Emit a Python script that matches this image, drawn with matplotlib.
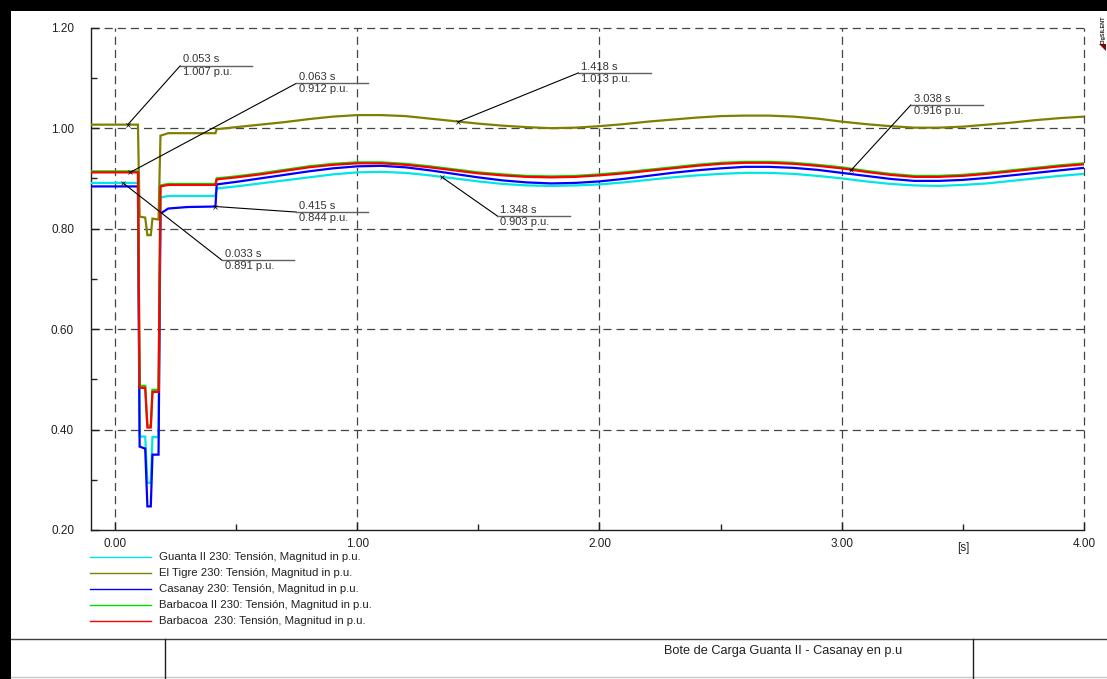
import matplotlib
matplotlib.use("Agg")
import matplotlib.pyplot as plt
from matplotlib.lines import Line2D
from matplotlib.patches import Rectangle, Polygon

plt.rcParams['font.family'] = ['Liberation Sans', 'DejaVu Sans']

# ---------------------------------------------------------------- data
time_s = [-0.10, 0.00, 0.095, 0.102, 0.125, 0.134, 0.148, 0.155, 0.180, 0.188,
          0.22, 0.30, 0.415, 0.420,
          0.5, 0.6, 0.7, 0.8, 0.9, 1.0, 1.1, 1.2, 1.3, 1.4, 1.5, 1.6, 1.7, 1.8,
          1.9, 2.0, 2.1, 2.2, 2.3, 2.4, 2.5, 2.6, 2.7, 2.8, 2.9, 3.0, 3.1, 3.2,
          3.3, 3.4, 3.5, 3.6, 3.7, 3.8, 3.9, 4.0]

guanta_ii = [0.891, 0.891, 0.891, 0.386, 0.386, 0.294, 0.294, 0.385, 0.385, 0.862,
             0.865, 0.865, 0.865, 0.880,
             0.884, 0.890, 0.896, 0.902, 0.908, 0.912, 0.913, 0.911, 0.906, 0.900,
             0.894, 0.889, 0.886, 0.885, 0.886, 0.888, 0.892, 0.897, 0.902, 0.906,
             0.909, 0.911, 0.911, 0.909, 0.905, 0.900, 0.894, 0.889, 0.886, 0.885,
             0.887, 0.890, 0.895, 0.900, 0.905, 0.909]

el_tigre = [1.007, 1.007, 1.007, 0.824, 0.822, 0.787, 0.787, 0.820, 0.818, 0.985,
            0.990, 0.990, 0.990, 0.998,
            1.002, 1.007, 1.012, 1.018, 1.023, 1.026, 1.026, 1.024, 1.019, 1.014,
            1.009, 1.005, 1.002, 1.000, 1.001, 1.004, 1.008, 1.013, 1.017, 1.021,
            1.024, 1.025, 1.025, 1.023, 1.019, 1.013, 1.008, 1.004, 1.001, 1.001,
            1.003, 1.007, 1.011, 1.016, 1.020, 1.023]

casanay = [0.884, 0.884, 0.884, 0.366, 0.362, 0.247, 0.247, 0.350, 0.350, 0.830,
           0.840, 0.843, 0.844, 0.888,
           0.893, 0.900, 0.907, 0.914, 0.920, 0.924, 0.925, 0.922, 0.916, 0.909,
           0.902, 0.896, 0.892, 0.890, 0.891, 0.894, 0.899, 0.905, 0.911, 0.916,
           0.920, 0.923, 0.923, 0.921, 0.917, 0.911, 0.905, 0.899, 0.895, 0.895,
           0.897, 0.901, 0.906, 0.911, 0.916, 0.921]

barbacoa_ii = [0.914, 0.914, 0.914, 0.487, 0.487, 0.408, 0.408, 0.479, 0.479, 0.886,
               0.889, 0.889, 0.889, 0.900,
               0.904, 0.910, 0.917, 0.924, 0.929, 0.932, 0.932, 0.929, 0.924, 0.918,
               0.912, 0.908, 0.905, 0.904, 0.905, 0.908, 0.912, 0.917, 0.922, 0.927,
               0.931, 0.933, 0.933, 0.931, 0.927, 0.922, 0.915, 0.909, 0.905, 0.905,
               0.907, 0.911, 0.916, 0.921, 0.926, 0.930]

barbacoa = [0.912, 0.912, 0.912, 0.483, 0.483, 0.404, 0.404, 0.475, 0.475, 0.884,
            0.887, 0.887, 0.887, 0.898,
            0.902, 0.908, 0.915, 0.922, 0.927, 0.930, 0.930, 0.927, 0.922, 0.916,
            0.910, 0.906, 0.903, 0.902, 0.903, 0.906, 0.910, 0.915, 0.920, 0.925,
            0.929, 0.931, 0.931, 0.929, 0.925, 0.920, 0.913, 0.907, 0.903, 0.903,
            0.905, 0.909, 0.914, 0.919, 0.924, 0.928]

series_labels = ["Guanta II 230: Tensión, Magnitud in p.u.",
                 "El Tigre 230: Tensión, Magnitud in p.u.",
                 "Casanay 230: Tensión, Magnitud in p.u.",
                 "Barbacoa II 230: Tensión, Magnitud in p.u.",
                 "Barbacoa  230: Tensión, Magnitud in p.u."]
series_values = [guanta_ii, el_tigre, casanay, barbacoa_ii, barbacoa]
series_colors = ["#00e5e5", "#808000", "#0000ff", "#00e000", "#ff0000"]

x_ticks = [0.0, 1.0, 2.0, 3.0, 4.0]
y_ticks = [0.20, 0.40, 0.60, 0.80, 1.00, 1.20]

# cursor labels: time, value, label anchor (time, value)
cursor_time = [0.053, 0.063, 0.033, 0.415, 1.418, 1.348, 3.038]
cursor_value = [1.007, 0.912, 0.891, 0.844, 1.013, 0.903, 0.916]
cursor_anchor_t = [0.269, 0.748, 0.442, 0.748, 1.913, 1.579, 3.285]
cursor_anchor_v = [1.124, 1.089, 0.737, 0.833, 1.110, 0.825, 1.046]

title_text = "Bote de Carga Guanta II - Casanay en p.u"

# ---------------------------------------------------------------- figure
W, H = 1107, 679
fig = plt.figure(figsize=(W / 100, H / 100), dpi=100)


def fx(px):
    return px / W


def fy(py):
    return 1 - py / H


ax = fig.add_axes([fx(90.7), fy(530), fx(1084) - fx(90.7), fy(27.7) - fy(530)])
ax.set_xlim(-0.10, 4.0)
ax.set_ylim(0.20, 1.20)

for sp in ("top", "right"):
    ax.spines[sp].set_visible(False)
for sp in ("left", "bottom"):
    ax.spines[sp].set_linewidth(1.0)
    ax.spines[sp].set_color("#202020")

grid_kw = dict(color="#454545", lw=0.9, dashes=(6.5, 4), clip_on=False, zorder=1)
for xv in x_ticks:
    ax.axvline(xv, **grid_kw)
for yv in y_ticks[1:]:
    ax.axhline(yv, **grid_kw)

ax.set_xticks(x_ticks)
ax.set_xticklabels([f"{v:.2f}" for v in x_ticks])
ax.set_xticks([0.5, 1.5, 2.5, 3.5], minor=True)
ax.set_yticks(y_ticks)
ax.set_yticklabels([f"{v:.2f}" for v in y_ticks])
ax.set_yticks([0.3, 0.5, 0.7, 0.9, 1.1], minor=True)
ax.tick_params(axis="both", which="major", direction="in", length=6, width=1,
               labelsize=8.5, colors="#202020")
ax.tick_params(axis="both", which="minor", direction="in", length=4, width=1,
               colors="#202020")
ax.tick_params(axis="y", which="major", pad=12)
ax.tick_params(axis="x", which="major", pad=6)
ax.text(3.5, -0.024, "[s]", transform=ax.get_xaxis_transform(), ha="center",
        va="top", fontsize=8.5, color="#202020")

for vals, col, lab in zip(series_values, series_colors, series_labels):
    ax.plot(time_s, vals, color=col, lw=1.6, zorder=3, solid_joinstyle="miter")

# cursor labels
for t, v, at, av in zip(cursor_time, cursor_value, cursor_anchor_t, cursor_anchor_v):
    ax.plot([t, at], [v, av], color="black", lw=0.8, zorder=5)
    ax.plot([at, at + 0.298], [av, av], color="#606060", lw=1.0, zorder=5)
    ax.plot([t], [v], marker="x", ms=2.2, mew=0.5, color="black", zorder=5)
    ax.annotate(f"{t:.3f} s", (at, av), xytext=(2, 1), textcoords="offset points",
                ha="left", va="bottom", fontsize=8, color="#333333", zorder=6)
    ax.annotate(f"{v:.3f} p.u.", (at, av), xytext=(2, -0.5), textcoords="offset points",
                ha="left", va="top", fontsize=8, color="#333333", zorder=6)

# legend
leg_y = [557.3, 573.3, 589.3, 605.0, 620.7]
for py, col, lab in zip(leg_y, series_colors, series_labels):
    fig.add_artist(Line2D([fx(90), fx(151)], [fy(py), fy(py)], color=col, lw=1.0))
    fig.text(fx(159), fy(py), lab, ha="left", va="center", fontsize=8.2, color="#202020")

# page frame and title block
fig.add_artist(Rectangle((0, fy(11)), 1, fy(0) - fy(11), transform=fig.transFigure,
                         color="black", lw=0))
fig.add_artist(Rectangle((0, 0), fx(11), 1, transform=fig.transFigure,
                         color="black", lw=0))
fig.add_artist(Line2D([fx(11), 1], [fy(638.5), fy(638.5)], color="#404040", lw=1.0))
fig.add_artist(Line2D([fx(11), 1], [fy(677), fy(677)], color="#c8c8c8", lw=1.0))
fig.add_artist(Line2D([fx(165), fx(165)], [fy(638.5), fy(679)], color="#202020", lw=1.0))
fig.add_artist(Line2D([fx(973), fx(973)], [fy(638.5), fy(679)], color="#202020", lw=1.0))
fig.text(fx(783), fy(651), title_text, ha="center", va="center", fontsize=9.2,
         color="#202020")

# vendor mark
fig.text(fx(1103), fy(30), "DIgSILENT", rotation=90, ha="center", va="center",
         fontsize=4, fontweight="bold", color="#202020")
fig.add_artist(Polygon([[fx(1099), fy(44)], [fx(1106), fy(44)], [fx(1106), fy(51)]],
                       closed=True, color="#8b0000", lw=0))

fig.savefig("out.png", dpi=100)
